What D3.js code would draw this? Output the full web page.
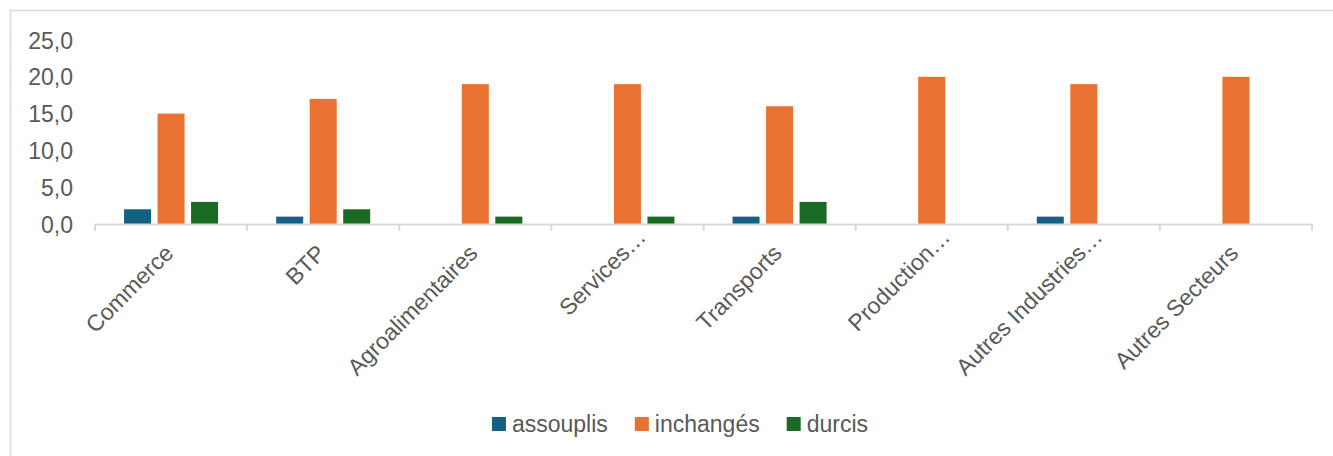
<!DOCTYPE html>
<html>
<head>
<meta charset="utf-8">
<script src="https://cdn.jsdelivr.net/npm/d3@7"></script>
<style>
  html, body { margin: 0; padding: 0; background: #fff; }
  svg { display: block; }
  text { font-family: "Liberation Sans", Arial, sans-serif; fill: #595959; }
</style>
</head>
<body>
<svg id="chart" width="1333" height="456"></svg>
<script>
const categories = ["Commerce", "BTP", "Agroalimentaires", "Services…", "Transports", "Production…", "Autres Industries…", "Autres Secteurs"];
const seriesNames = ["assouplis", "inchangés", "durcis"];
const assouplis = [2, 1, 0, 0, 1, 0, 1, 0];
const inchanges = [15, 17, 19, 19, 16, 20, 19, 20];
const durcis = [3, 2, 1, 1, 3, 0, 0, 0];
const yTicks = [0, 5, 10, 15, 20, 25];
const colors = ["#156082", "#E97132", "#196B24"];

const seriesValues = [assouplis, inchanges, durcis];
const data = categories.map((c, i) => ({
  cat: c,
  vals: seriesNames.map((s, j) => ({ key: s, value: seriesValues[j][i] }))
}));

const svg = d3.select("#chart");
const W = 1333, H = 456;
const FS = 23;

// outer chart border (light grey)
svg.append("path")
  .attr("d", `M10.5,${H} L10.5,10.5 L${W},10.5`)
  .attr("fill", "none").attr("stroke", "#d9d9d9").attr("stroke-width", 1.5);

const plot = { left: 95, right: 1312, top: 40, bottom: 224 };

const x0 = d3.scaleBand().domain(categories).range([plot.left, plot.right]).padding(0);
const groupW = x0.bandwidth() * 0.618;
const x1 = d3.scaleBand().domain(seriesNames).range([0, groupW]).paddingInner(0.194);
const y = d3.scaleLinear().domain([0, 25]).range([plot.bottom, plot.top]);

// bars
const groups = svg.append("g").selectAll("g").data(data).join("g")
  .attr("transform", d => `translate(${x0(d.cat) + (x0.bandwidth() - groupW) / 2},0)`);
groups.selectAll("rect").data(d => d.vals).join("rect")
  .attr("x", d => x1(d.key))
  .attr("width", x1.bandwidth())
  .attr("y", d => y(d.value))
  .attr("height", d => y(0) - y(d.value))
  .attr("fill", (d, i) => colors[i]);

// y axis labels (no axis line)
const fmt = v => d3.format(".1f")(v).replace(".", ",");
const yAxis = d3.axisLeft(y).tickValues(yTicks).tickFormat(fmt).tickSize(0).tickPadding(0);
const yg = svg.append("g").attr("transform", `translate(73,0)`).call(yAxis);
yg.select(".domain").remove();
yg.selectAll("text").attr("font-size", FS).attr("fill", "#595959")
  .attr("font-family", "Liberation Sans, Arial, sans-serif").attr("dy", "0.35em");

// x axis line with boundary ticks
const xg = svg.append("g");
xg.append("line").attr("x1", plot.left).attr("x2", plot.right)
  .attr("y1", y(0) + 0.5).attr("y2", y(0) + 0.5)
  .attr("stroke", "#d9d9d9").attr("stroke-width", 2);
const boundaries = categories.map(c => x0(c)).concat([x0(categories[categories.length - 1]) + x0.bandwidth()]);
xg.selectAll("line.tk").data(boundaries).join("line").attr("class", "tk")
  .attr("x1", d => d).attr("x2", d => d)
  .attr("y1", y(0)).attr("y2", y(0) + 7)
  .attr("stroke", "#d9d9d9").attr("stroke-width", 2);

// x labels rotated -45 (truncation ellipsis overflows past the anchor, as in Excel)
const lbl = xg.selectAll("g.xl").data(categories).join("g").attr("class", "xl")
  .attr("transform", d => `translate(${x0(d) + x0.bandwidth() / 2 - 2},${y(0) + 25}) rotate(-45)`);
lbl.append("text")
  .attr("text-anchor", "end")
  .attr("dominant-baseline", "central")
  .attr("font-size", FS)
  .text(d => d.endsWith("…") ? d.slice(0, -1) : d);
lbl.filter(d => d.endsWith("…")).append("text")
  .attr("text-anchor", "start")
  .attr("dominant-baseline", "central")
  .attr("font-size", FS)
  .text("…");

// legend
const legend = svg.append("g");
const items = legend.selectAll("g").data(seriesNames).join("g");
items.append("rect").attr("width", 14).attr("height", 14).attr("y", -7)
  .attr("fill", (d, i) => colors[i]);
items.append("text").attr("x", 20).attr("dominant-baseline", "central")
  .attr("font-size", FS).text(d => d);
let xPos = 0;
items.each(function () {
  const g = d3.select(this);
  g.attr("transform", `translate(${xPos},0)`);
  const tw = g.select("text").node().getComputedTextLength();
  xPos += 20 + tw + 27;
});
const legendW = xPos - 27;
legend.attr("transform", `translate(${680 - legendW / 2},424)`);
</script>
</body>
</html>
